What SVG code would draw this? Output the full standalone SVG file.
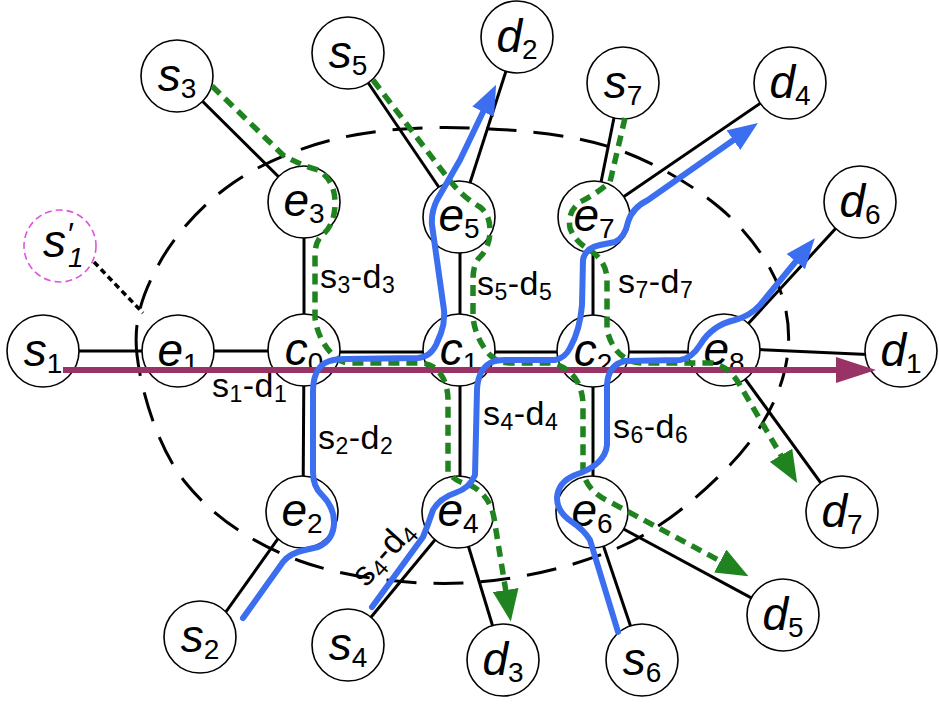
<svg xmlns="http://www.w3.org/2000/svg" width="939" height="709" viewBox="0 0 939 709">
<style>
.edge{stroke:#000;stroke-width:3;fill:none}
.node circle{fill:#fff;stroke:#000;stroke-width:1.6}
.nl{font-family:"Liberation Sans",Arial,sans-serif;font-size:46px;font-style:italic;text-anchor:middle;fill:#000}
.sb{font-size:28px;font-style:normal}
.el{font-family:"Liberation Sans",Arial,sans-serif;font-size:34px;fill:#000;letter-spacing:0.5px}
.es{font-size:23px}
.blue{stroke:#3c6ef0;stroke-width:6;fill:none;stroke-linejoin:round;stroke-linecap:round}
.green{stroke:#1f841f;stroke-width:5.5;fill:none;stroke-dasharray:11 7}
.purple{stroke:#993366;stroke-width:6;fill:none}
</style>
<defs>
<marker id="ab" markerUnits="userSpaceOnUse" markerWidth="30" markerHeight="24" viewBox="0 0 30 24" refX="2" refY="12" orient="auto"><path d="M0,0 L30,12 L0,24 z" fill="#3c6ef0"/></marker>
<marker id="ag" markerUnits="userSpaceOnUse" markerWidth="32" markerHeight="26" viewBox="0 0 32 26" refX="2" refY="13" orient="auto"><path d="M0,0 L32,13 L0,26 z" fill="#1f841f"/></marker>
<marker id="ap" markerUnits="userSpaceOnUse" markerWidth="40" markerHeight="26" viewBox="0 0 40 26" refX="2" refY="13" orient="auto"><path d="M0,0 L40,13 L0,26 z" fill="#993366"/></marker>
</defs>
<rect width="939" height="709" fill="#fff"/>
<g id="edges">
<line class="edge" x1="43" y1="351" x2="178" y2="351"/>
<line class="edge" x1="178" y1="351" x2="304" y2="351"/>
<line class="edge" x1="304" y1="352" x2="459" y2="352"/>
<line class="edge" x1="459" y1="352" x2="593" y2="352"/>
<line class="edge" x1="593" y1="352" x2="724" y2="352"/>
<line class="edge" x1="724" y1="348" x2="901" y2="356"/>
<line class="edge" x1="304" y1="350" x2="304" y2="202"/>
<line class="edge" x1="304" y1="350" x2="303" y2="512"/>
<line class="edge" x1="460" y1="350" x2="460" y2="217"/>
<line class="edge" x1="460" y1="350" x2="460" y2="512"/>
<line class="edge" x1="593" y1="351" x2="593" y2="217"/>
<line class="edge" x1="593" y1="351" x2="593" y2="512"/>
<line class="edge" x1="177" y1="76" x2="304" y2="202"/>
<line class="edge" x1="348" y1="53" x2="459" y2="217"/>
<line class="edge" x1="459" y1="217" x2="517" y2="37"/>
<line class="edge" x1="621" y1="83" x2="594" y2="217"/>
<line class="edge" x1="594" y1="217" x2="790" y2="83"/>
<line class="edge" x1="724" y1="350" x2="860" y2="202"/>
<line class="edge" x1="724" y1="350" x2="842" y2="512"/>
<line class="edge" x1="592" y1="512" x2="783" y2="615"/>
<line class="edge" x1="592" y1="512" x2="642" y2="660"/>
<line class="edge" x1="458" y1="512" x2="503" y2="660"/>
<line class="edge" x1="458" y1="512" x2="348" y2="645"/>
<line class="edge" x1="297" y1="512" x2="208" y2="637"/>
<line x1="94" y1="262" x2="143" y2="313" stroke="#000" stroke-width="3.5" stroke-dasharray="6 4"/>
</g>
<g id="region">
<path d="M 137 355 C 132.8 318.3 144 290.7 160 262 C 176 233.3 203 203.7 233 183 C 263 162.3 300.5 147.2 340 138 C 379.5 128.8 425 126.5 470 128 C 515 129.5 568.3 133.7 610 147 C 651.7 160.3 691.7 184.2 720 208 C 748.3 231.8 769.5 261.8 780 290 C 790.5 318.2 791.3 347.8 783 377 C 774.7 406.2 757.2 436.7 730 465 C 702.8 493.3 664.5 527.3 620 547 C 575.5 566.7 516.3 580.7 463 583 C 409.7 585.3 346.3 577.8 300 561 C 253.7 544.2 212.2 516.3 185 482 C 157.8 447.7 141.2 391.7 137 355 Z" fill="none" stroke="#000" stroke-width="3" stroke-dasharray="30 17"/>
</g>
<g id="node-s1p" class="node"><circle cx="60" cy="246" r="36" stroke-dasharray="7 4" style="stroke:#dd55dd"/><text class="nl" x="43" y="257" style="text-anchor:start">s<tspan font-size="32" font-style="normal" dx="2" dy="-12">′</tspan><tspan font-size="28" dx="-6" dy="22">1</tspan></text></g>
<g id="node-s1" class="node"><circle cx="43" cy="351" r="36"/><text class="nl" x="43" y="366">s<tspan class="sb" dy="7">1</tspan></text></g>
<g id="node-e1" class="node"><circle cx="178" cy="351" r="36"/><text class="nl" x="178" y="366">e<tspan class="sb" dy="7">1</tspan></text></g>
<g id="node-c0" class="node"><circle cx="304" cy="350" r="36"/><text class="nl" x="304" y="365">c<tspan class="sb" dy="7">0</tspan></text></g>
<g id="node-c1" class="node"><circle cx="459" cy="350" r="36"/><text class="nl" x="459" y="365">c<tspan class="sb" dy="7">1</tspan></text></g>
<g id="node-c2" class="node"><circle cx="593" cy="351" r="36"/><text class="nl" x="593" y="366">c<tspan class="sb" dy="7">2</tspan></text></g>
<g id="node-e8" class="node"><circle cx="724" cy="350" r="36"/><text class="nl" x="724" y="365">e<tspan class="sb" dy="7">8</tspan></text></g>
<g id="node-d1" class="node"><circle cx="901" cy="351" r="36"/><text class="nl" x="901" y="366">d<tspan class="sb" dy="7">1</tspan></text></g>
<g id="node-e3" class="node"><circle cx="304" cy="202" r="36"/><text class="nl" x="304" y="216">e<tspan class="sb" dy="7">3</tspan></text></g>
<g id="node-e5" class="node"><circle cx="459" cy="217" r="36"/><text class="nl" x="459" y="231">e<tspan class="sb" dy="7">5</tspan></text></g>
<g id="node-e7" class="node"><circle cx="594" cy="217" r="36"/><text class="nl" x="594" y="231">e<tspan class="sb" dy="7">7</tspan></text></g>
<g id="node-e2" class="node"><circle cx="302" cy="512" r="36"/><text class="nl" x="302" y="526">e<tspan class="sb" dy="7">2</tspan></text></g>
<g id="node-e4" class="node"><circle cx="458" cy="512" r="36"/><text class="nl" x="458" y="526">e<tspan class="sb" dy="7">4</tspan></text></g>
<g id="node-e6" class="node"><circle cx="592" cy="512" r="36"/><text class="nl" x="592" y="526">e<tspan class="sb" dy="7">6</tspan></text></g>
<g id="node-s3" class="node"><circle cx="177" cy="76" r="36"/><text class="nl" x="177" y="91">s<tspan class="sb" dy="7">3</tspan></text></g>
<g id="node-s5" class="node"><circle cx="348" cy="53" r="36"/><text class="nl" x="348" y="68">s<tspan class="sb" dy="7">5</tspan></text></g>
<g id="node-d2" class="node"><circle cx="517" cy="37" r="36"/><text class="nl" x="517" y="52">d<tspan class="sb" dy="7">2</tspan></text></g>
<g id="node-s7" class="node"><circle cx="623" cy="83" r="36"/><text class="nl" x="623" y="98">s<tspan class="sb" dy="7">7</tspan></text></g>
<g id="node-d4" class="node"><circle cx="790" cy="83" r="36"/><text class="nl" x="790" y="98">d<tspan class="sb" dy="7">4</tspan></text></g>
<g id="node-d6" class="node"><circle cx="860" cy="202" r="36"/><text class="nl" x="860" y="217">d<tspan class="sb" dy="7">6</tspan></text></g>
<g id="node-d7" class="node"><circle cx="842" cy="512" r="36"/><text class="nl" x="842" y="527">d<tspan class="sb" dy="7">7</tspan></text></g>
<g id="node-d5" class="node"><circle cx="783" cy="615" r="36"/><text class="nl" x="783" y="630">d<tspan class="sb" dy="7">5</tspan></text></g>
<g id="node-s6" class="node"><circle cx="642" cy="660" r="36"/><text class="nl" x="642" y="675">s<tspan class="sb" dy="7">6</tspan></text></g>
<g id="node-d3" class="node"><circle cx="503" cy="660" r="36"/><text class="nl" x="503" y="675">d<tspan class="sb" dy="7">3</tspan></text></g>
<g id="node-s4" class="node"><circle cx="348" cy="645" r="36"/><text class="nl" x="348" y="660">s<tspan class="sb" dy="7">4</tspan></text></g>
<g id="node-s2" class="node"><circle cx="200" cy="637" r="36"/><text class="nl" x="200" y="652">s<tspan class="sb" dy="7">2</tspan></text></g>
<g id="connectors">
<path class="purple" d="M 63 370 L 838 370" marker-end="url(#ap)"/>
<path class="green" d="M 212 86 L 283 155 Q 300 165 318 170 Q 335 180 335 203 Q 335 225 322 235 Q 315 242 315 255 L 315 318 Q 318 340 333 355 Q 340 363 350 363 L 420 363 Q 435 363 443 378 Q 448 388 448 400 L 448 472 Q 455 482 470 485 Q 490 495 494 518 L 506 592" marker-end="url(#ag)"/>
<path class="green" d="M 373 80 L 447 177 Q 462 197 480 207 Q 490 215 490 230 Q 490 248 479 258 Q 473 265 473 280 L 473 318 Q 476 340 490 355 Q 498 363 510 363 L 550 363 Q 565 365 575 378 Q 583 390 583 405 L 583 470 Q 585 490 610 502 L 722 562" marker-end="url(#ag)"/>
<path class="green" d="M 625 118 L 610 182 Q 595 195 580 202 Q 567 212 570 228 Q 575 242 590 250 Q 607 262 607 280 L 607 330 Q 612 350 625 358 Q 632 363 642 363 L 712 363 Q 728 366 738 382 L 782 457" marker-end="url(#ag)"/>
<path class="blue" d="M 243 618 L 283 562 Q 290 553 305 550 L 318 547 Q 334 540 334 522 Q 334 507 322 495 Q 313 487 313 472 L 313 392 Q 313 370 325 363 Q 332 359 345 359 L 418 358 Q 430 357 436 345 L 441 333 Q 445 322 444 310 L 432 225 Q 431 212 437 200 L 460 160 L 484 110" marker-end="url(#ab)"/>
<path class="blue" d="M 372 607 L 423 537 Q 428 525 433 510 Q 440 498 455 493 Q 470 488 475 475 L 477 390 Q 478 370 490 363 Q 495 360 505 360 L 555 360 Q 565 358 570 348 Q 580 330 582 305 L 583 260 Q 585 248 600 245 L 615 242 Q 625 237 628 222 Q 632 208 648 200 L 735 139" marker-end="url(#ab)"/>
<path class="blue" d="M 618 632 L 590 540 Q 584 530 572 522 Q 557 512 557 498 Q 558 482 575 475 Q 605 465 607 445 L 607 385 Q 608 365 625 361 L 680 360 Q 692 358 700 345 Q 712 325 735 320 Q 750 316 760 305 L 797 260" marker-end="url(#ab)"/>
</g>
<g id="labels">
<text class="el" x="320" y="288">s<tspan class="es" dy="5">3</tspan><tspan dy="-5">-d</tspan><tspan class="es" dy="5">3</tspan></text>
<text class="el" x="212" y="397">s<tspan class="es" dy="5">1</tspan><tspan dy="-5">-d</tspan><tspan class="es" dy="5">1</tspan></text>
<text class="el" x="318" y="449">s<tspan class="es" dy="5">2</tspan><tspan dy="-5">-d</tspan><tspan class="es" dy="5">2</tspan></text>
<text class="el" x="477" y="295">s<tspan class="es" dy="5">5</tspan><tspan dy="-5">-d</tspan><tspan class="es" dy="5">5</tspan></text>
<text class="el" x="618" y="293">s<tspan class="es" dy="5">7</tspan><tspan dy="-5">-d</tspan><tspan class="es" dy="5">7</tspan></text>
<text class="el" x="483" y="425">s<tspan class="es" dy="5">4</tspan><tspan dy="-5">-d</tspan><tspan class="es" dy="5">4</tspan></text>
<text class="el" x="613" y="438">s<tspan class="es" dy="5">6</tspan><tspan dy="-5">-d</tspan><tspan class="es" dy="5">6</tspan></text>
<text class="el" x="366" y="588" transform="rotate(-48 366 588)">s<tspan class="es" dy="5">4</tspan><tspan dy="-5">-d</tspan><tspan class="es" dy="5">4</tspan></text>
</g>
</svg>
